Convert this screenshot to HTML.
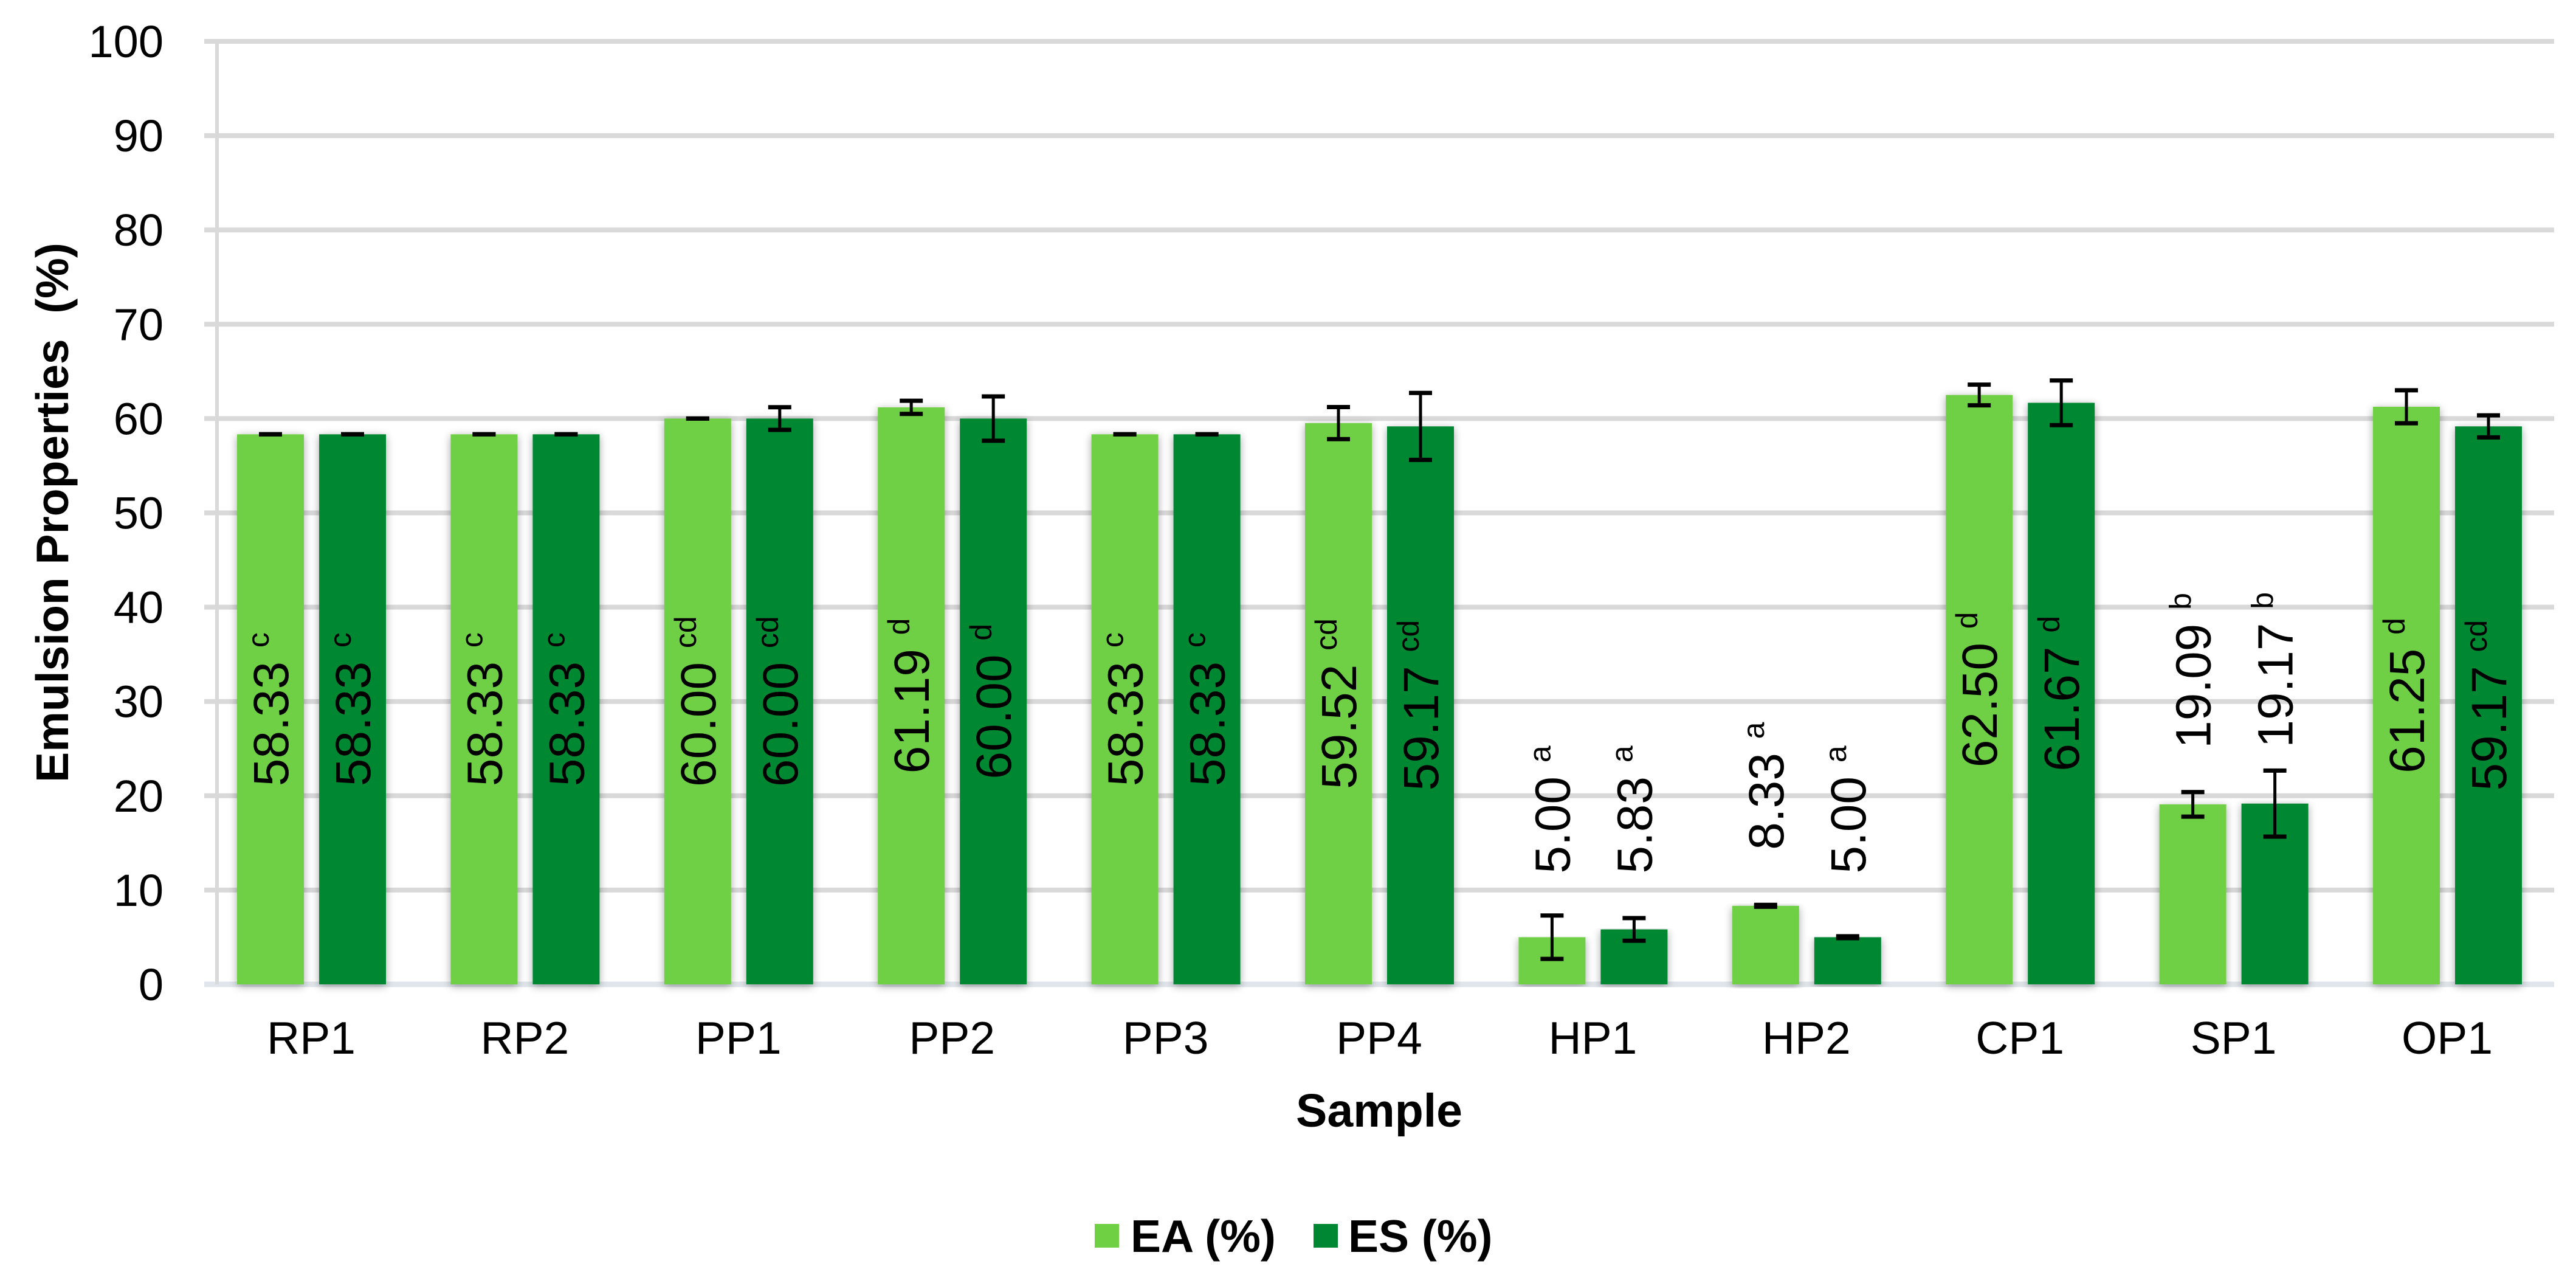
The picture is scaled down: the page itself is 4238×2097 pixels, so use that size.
<!DOCTYPE html>
<html><head><meta charset="utf-8"><style>
html,body{margin:0;padding:0;background:#fff;}
svg{display:block;font-family:"Liberation Sans",Arial,sans-serif;}
</style></head><body>
<svg id="chart" width="4238" height="2097" viewBox="0 0 4238 2097" xmlns="http://www.w3.org/2000/svg">
<defs>
<filter id="sh" x="-30%" y="-5%" width="160%" height="110%"><feGaussianBlur in="SourceAlpha" stdDeviation="7"/><feOffset dx="0" dy="3"/><feComponentTransfer><feFuncA type="linear" slope="0.35"/></feComponentTransfer><feMerge><feMergeNode/><feMergeNode in="SourceGraphic"/></feMerge></filter>
</defs>
<g id="grid"></g>
<g id="bars"></g>
<g id="labels"></g>
<text transform="translate(112,843) rotate(-90)" text-anchor="middle" font-size="75" font-weight="bold">Emulsion Properties&#160; (%)</text>
<text x="2269" y="1853" text-anchor="middle" font-size="77" font-weight="bold">Sample</text>
<g>
<rect x="1801" y="2013" width="40" height="39" fill="#70d044"/>
<text x="1860" y="2059" font-size="75" font-weight="bold">EA (%)</text>
<rect x="2161" y="2013" width="40" height="39" fill="#008733"/>
<text x="2218" y="2059" font-size="75" font-weight="bold">ES (%)</text>
</g>
</svg>
<script>
const categories = ["RP1","RP2","PP1","PP2","PP3","PP4","HP1","HP2","CP1","SP1","OP1"];
const eaValues = [58.33,58.33,60.00,61.19,58.33,59.52,5.00,8.33,62.50,19.09,61.25];
const esValues = [58.33,58.33,60.00,60.00,58.33,59.17,5.83,5.00,61.67,19.17,59.17];
const eaErrors = [0,0,0,0.7,0,1.7,2.3,0.1,1.1,1.3,1.75];
const esErrors = [0,0,1.2,2.35,0,3.55,1.2,0.1,2.37,3.5,1.17];
const eaLetters = ["c","c","cd","d","c","cd","a","a","d","b","d"];
const esLetters = ["c","c","cd","d","c","cd","a","a","d","b","cd"];
const yTicks = [0,10,20,30,40,50,60,70,80,90,100];

const NS = "http://www.w3.org/2000/svg";
const y0 = 1619, yPer = 15.51;
const yS = v => y0 - v * yPer;
const cx = i => 512 + 351.4 * i;
const barW = 110;
function mk(tag, attrs, parent){const e=document.createElementNS(NS,tag);for(const k in attrs)e.setAttribute(k,attrs[k]);parent.appendChild(e);return e;}
const grid=document.getElementById('grid'), bars=document.getElementById('bars'), labels=document.getElementById('labels');
const svg=document.getElementById('chart');

yTicks.forEach(t=>{
  const y=yS(t);
  const ln=mk('line',{x1:336,x2:4202,y1:y,y2:y,stroke:t===0?'#dfe5ea':'#d9d9d9','stroke-width':t===0?9:8},grid);
  
  
  const tx=mk('text',{x:269,y:y+26,'text-anchor':'end','font-size':74},svg);
  tx.textContent=t;
  
  
});
const ax=mk('line',{x1:357,x2:357,y1:yS(100),y2:y0,stroke:'#d9d9d9','stroke-width':6},grid);



function drawBar(i, v, err, letter, x, color, series){
  const top=yS(v);
  const r=mk('rect',{x:x,y:top,width:barW,height:y0-top,fill:color,filter:'url(#sh)'},bars);
  
  
  const mx=x+barW/2;
  const g=mk('g',{stroke:'#000'},bars);
  
  
  const yt=yS(v+err), yb=yS(v-err);
  mk('line',{x1:mx,x2:mx,y1:yt,y2:yb,'stroke-width':5},g);
  mk('line',{x1:mx-19,x2:mx+19,y1:yt,y2:yt,'stroke-width':7},g);
  mk('line',{x1:mx-19,x2:mx+19,y1:yb,y2:yb,'stroke-width':7},g);
  let anchorY, anchor;
  if (v > 30){ anchorY=(top+y0)/2; anchor='middle'; }
  else { anchorY=yS(Math.max(v,5.83))-92; anchor='start'; }
  const t=mk('text',{transform:`translate(${mx+29},${anchorY}) rotate(-90)`,'text-anchor':anchor,'font-size':82},labels);
  
  
  t.textContent=v.toFixed(2)+' ';
  const s=mk('tspan',{'font-size':50,dy:-32},t);
  s.textContent=letter;
}
categories.forEach((c,i)=>{
  const c0=cx(i);
  drawBar(i, eaValues[i], eaErrors[i], eaLetters[i], c0-122, '#70d044', 'ea');
  drawBar(i, esValues[i], esErrors[i], esLetters[i], c0+13, '#008733', 'es');
  const t=mk('text',{x:c0,y:1733,'text-anchor':'middle','font-size':75},svg);
  t.textContent=c;
  
  
});
</script>
</body></html>
